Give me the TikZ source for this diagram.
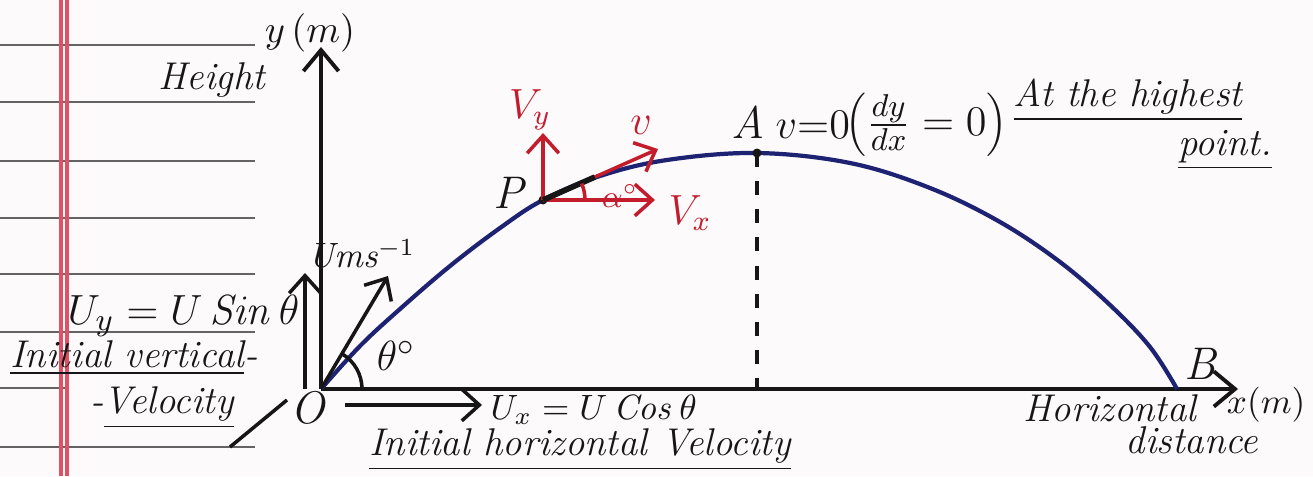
\documentclass[tikz,border=0pt]{standalone}
\usetikzlibrary{arrows.meta,calc}
\definecolor{ink}{RGB}{22,22,22}
\definecolor{navy}{RGB}{30,34,115}
\definecolor{redink}{RGB}{195,28,45}
\definecolor{marginred}{RGB}{225,80,100}
\definecolor{ruleline}{RGB}{100,100,100}
\definecolor{paper}{RGB}{252,250,250}
\begin{document}
\begin{tikzpicture}[x=0.01cm,y=-0.01cm,
  lbl/.style={font=\fontsize{11}{13}\selectfont\itshape, text=ink, inner sep=0pt},
  sml/.style={font=\fontsize{10}{12}\selectfont\itshape, text=ink, inner sep=0pt},
  big/.style={font=\fontsize{13}{15}\selectfont\itshape, text=ink, inner sep=0pt},
  rlbl/.style={font=\fontsize{12}{14}\selectfont\itshape, text=redink, inner sep=0pt},
  axis/.style={draw=ink, line width=1.1pt},
  vec/.style={draw=ink, line width=1pt, -{Straight Barb[length=5pt,width=9pt,line width=1pt]}},
  rvec/.style={draw=redink, line width=1pt, -{Straight Barb[length=5pt,width=9pt,line width=1pt]}},
  paperrule/.style={draw=ruleline, line width=0.8pt},
  marginline/.style={draw=marginred, line width=1pt}]
\useasboundingbox (0,0) rectangle (1313,476);
\fill[paper] (0,0) rectangle (1313,476);
% notebook rules
\foreach \yy in {45,102,161,218,274,332,447}
  \draw[paperrule] (0,\yy) -- (255,\yy);
\draw[paperrule] (0,388) -- (68,388);
\draw[marginline] (61,0) -- (61,476);
\draw[marginline] (67,0) -- (67,476);

% key points
\coordinate (O) at (321,389);
\coordinate (ytip) at (321,47);
\coordinate (xtip) at (1238,389);
\coordinate (A) at (757,153);
\coordinate (Afoot) at (757,389);
\coordinate (B) at (1177,389);
\coordinate (P) at (543,200);
\coordinate (Utip) at (388,276);
\coordinate (Uybase) at (305,389);
\coordinate (Uytip) at (305,273);
\coordinate (Uxbase) at (345,405);
\coordinate (Uxtip) at (482,405);
\coordinate (Vytip) at (543,133);
\coordinate (Vxtip) at (655,200);
\coordinate (Vtip) at (658,149);
\coordinate (leadA) at (230,447);
\coordinate (leadB) at (287,400);

% axes
\draw[axis, -{Straight Barb[length=6pt,width=10pt,line width=1.1pt]}] (O) -- (ytip);
\draw[axis, -{Straight Barb[length=6pt,width=10pt,line width=1.1pt]}] (O) -- (xtip);

% trajectory
\draw[navy, line width=1.2pt] plot[smooth, tension=0.6] coordinates {
  (321,389) (360,346) (400,309) (450,266) (500,228) (543,200) (600,176) (667,160)
  (757,153) (850,163) (930,188) (1000,222) (1060,262) (1110,305) (1150,347) (1177,389)};
\fill[ink] (A) circle[radius=4.5];
\fill[ink] (P) circle[radius=4.5];
\draw[ink, line width=1pt, dash pattern=on 4pt off 4pt] (A) -- (Afoot);

% initial velocity vectors
\draw[vec] (O) -- (Utip);
\draw[vec] (Uybase) -- (Uytip);
\draw[vec] (Uxbase) -- (Uxtip);
\draw[ink, line width=1pt] (O) ++(41,0) arc[start angle=0, end angle=-58, radius=41];
\draw[ink, line width=1pt] (leadA) -- (leadB);

% velocity at P
\draw[rvec] (P) -- (Vytip);
\draw[rvec] (P) -- (Vxtip);
\draw[rvec] (P) -- (Vtip);
\draw[ink, line width=1.6pt] (P) -- ($(P)!0.45!(Vtip)$);
\draw[redink, line width=1pt] (P) ++(42,0) arc[start angle=0, end angle=-23, radius=42];

% labels
\node[lbl] (ylab) at (310,33) {$y\,(m)$};
\node[lbl] (height) at (212,80) {Height};
\node[sml] (ums) at (362,254) {Ums$^{-1}$};
\node[big] (theta) at (396,356) {$\theta^{\circ}$};
\node[big] (Olab) at (308,408) {O};
\node[big, anchor=east] (uy) at (300,316) {$U_y = U\,\mathit{Sin}\,\theta$};
\node[lbl] (ivv) at (134,358) {\underline{Initial vertical}-};
\node[lbl] (vel) at (162,408) {-\underline{Velocity}};
\node[sml, anchor=west] (ux) at (490,410) {$U_x = U\,\mathit{Cos}\,\theta$};
\node[lbl] (ihv) at (580,450) {\underline{Initial horizontal Velocity}};
\node[big] (Plab) at (509,193) {P};
\node[rlbl] (Vylab) at (530,110) {$V_y$};
\node[rlbl] (Vlab) at (641,125) {$v$};
\node[rlbl] (Vxlab) at (690,213) {$V_x$};
\node[font=\fontsize{9}{11}\selectfont, text=redink, inner sep=0pt] (alab) at (620,196) {$\alpha^{\circ}$};
\node[big] (Alab) at (748,122) {A};
\node[big, anchor=west] (v0) at (775,125) {$v{=}0$};
\node[big, anchor=west] (dydx) at (845,125) {$\Bigl(\frac{dy}{dx}=0\Bigr)$};
\node[lbl] (hi) at (1128,100) {\underline{At the highest}};
\node[lbl] (pt) at (1225,150) {\underline{point.}};
\node[big] (Blab) at (1200,364) {B};
\node[sml, anchor=east] (xm) at (1306,405) {$x(m)$};
\node[lbl] (horiz) at (1110,408) {Horizontal};
\node[lbl] (dist) at (1192,440) {distance};
\end{tikzpicture}
\end{document}
